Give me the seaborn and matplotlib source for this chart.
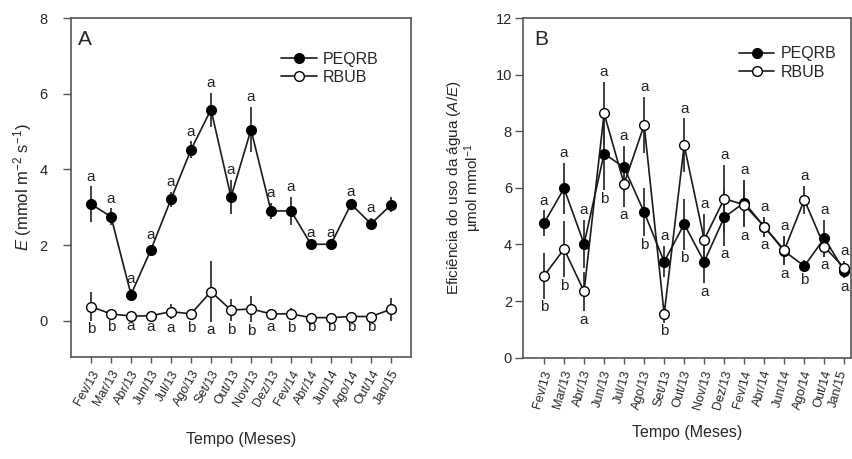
import numpy as np
import pandas as pd
import matplotlib
matplotlib.use("Agg")
import matplotlib.pyplot as plt
import matplotlib.transforms as mtransforms
import seaborn as sns

# ---------------- data ----------------
months = ["Fev/13", "Mar/13", "Abr/13", "Jun/13", "Jul/13", "Ago/13", "Set/13", "Out/13",
          "Nov/13", "Dez/13", "Fev/14", "Abr/14", "Jun/14", "Ago/14", "Out/14", "Jan/15"]

# Panel A: transpiration E
peqrb_E = [3.08, 2.75, 0.69, 1.88, 3.21, 4.52, 5.58, 3.27, 5.05, 2.90, 2.90, 2.02, 2.02, 3.08, 2.56, 3.06]
peqrb_E_err = [0.47, 0.22, 0.15, 0.12, 0.2, 0.22, 0.45, 0.45, 0.6, 0.22, 0.38, 0.05, 0.05, 0.05, 0.15, 0.2]
rbub_E = [0.37, 0.18, 0.12, 0.13, 0.24, 0.18, 0.77, 0.28, 0.31, 0.18, 0.18, 0.08, 0.08, 0.11, 0.11, 0.30]
rbub_E_err = [0.38, 0.12, 0.05, 0.08, 0.2, 0.14, 0.8, 0.3, 0.35, 0.12, 0.16, 0.03, 0.03, 0.05, 0.05, 0.3]
peqrb_E_let = ["a"] * 15 + [""]
rbub_E_let = ["b", "b", "a", "a", "a", "b", "a", "b", "b", "a", "b", "b", "b", "b", "b", ""]

# Panel B: water use efficiency A/E
peqrb_W = [4.75, 5.98, 4.02, 7.21, 6.72, 5.14, 3.39, 4.72, 3.39, 4.96, 5.48, 4.63, 3.76, 3.24, 4.22, 3.06]
peqrb_W_err = [0.45, 0.9, 0.85, 1.3, 0.75, 0.85, 0.55, 0.9, 0.76, 1.0, 0.8, 0.35, 0.5, 0.2, 0.65, 0.25]
rbub_W = [2.89, 3.84, 2.34, 8.63, 6.14, 8.22, 1.54, 7.50, 4.17, 5.62, 5.40, 4.63, 3.80, 5.58, 3.92, 3.16]
rbub_W_err = [0.8, 1.0, 0.7, 1.1, 0.8, 1.0, 0.3, 0.95, 0.9, 1.2, 0.8, 0.35, 0.5, 0.5, 0.35, 0.25]
peqrb_W_let = ["a", "a", "a", "b", "a", "b", "a", "b", "a", "a", "a", "a", "a", "b", "a", "a"]
rbub_W_let = ["b", "b", "a", "a", "a", "a", "b", "a", "a", "a", "a", "a", "a", "a", "a", "a"]

series_names = ["PEQRB", "RBUB"]

# ---------------- style ----------------
sns.set_theme(style="white")
plt.rcParams["font.family"] = ["Liberation Sans", "DejaVu Sans"]
plt.rcParams["mathtext.fontset"] = "custom"
plt.rcParams["mathtext.rm"] = "Liberation Sans"
plt.rcParams["mathtext.it"] = "Liberation Sans:italic"
plt.rcParams["mathtext.default"] = "regular"

SPINE = "#555555"
LINE = "#1a1a1a"

fig = plt.figure(figsize=(8.52, 4.59), dpi=100)
W, H = 852, 459
axA = fig.add_axes([71 / W, 1 - 357 / H, 340 / W, 339 / H])
axB = fig.add_axes([523 / W, 1 - 357.7 / H, 328 / W, 339.7 / H])

x = np.arange(len(months))


def draw(ax, yp, ep, yr, er, lp, lr, mode):
    df = pd.DataFrame({"x": np.concatenate([x, x]),
                       "v": np.concatenate([yp, yr]),
                       "s": [series_names[0]] * len(x) + [series_names[1]] * len(x)})
    ax.errorbar(x, yp, yerr=ep, fmt="none", ecolor="#333333", elinewidth=1.3, capsize=0, zorder=1)
    ax.errorbar(x, yr, yerr=er, fmt="none", ecolor="#333333", elinewidth=1.3, capsize=0, zorder=1)
    sns.lineplot(data=df[df.s == "PEQRB"], x="x", y="v", ax=ax, color=LINE, lw=1.2,
                 marker="o", markersize=7, markerfacecolor="black", markeredgecolor="black",
                 markeredgewidth=1, label="PEQRB", zorder=3)
    sns.lineplot(data=df[df.s == "RBUB"], x="x", y="v", ax=ax, color=LINE, lw=1.2,
                 marker="o", markersize=7, markerfacecolor="white", markeredgecolor="black",
                 markeredgewidth=1, label="RBUB", zorder=4)
    for i in range(len(x)):
        if mode == "A":
            p_up, r_up = True, False
        else:
            p_up = yp[i] >= yr[i]
            r_up = not p_up
        for val, err, let, up in ((yp[i], ep[i], lp[i], p_up), (yr[i], er[i], lr[i], r_up)):
            if not let:
                continue
            if up:
                ax.annotate(let, (x[i], val + err), xytext=(0, 2), textcoords="offset points",
                            ha="center", va="bottom", fontsize=11, color="#222222")
            else:
                ax.annotate(let, (x[i], val - err), xytext=(0, -1), textcoords="offset points",
                            ha="center", va="top", fontsize=11, color="#222222")


draw(axA, peqrb_E, peqrb_E_err, rbub_E, rbub_E_err, peqrb_E_let, rbub_E_let, "A")
draw(axB, peqrb_W, peqrb_W_err, rbub_W, rbub_W_err, peqrb_W_let, rbub_W_let, "B")

# axes A
axA.set_xlim(-1, 16)
axA.set_ylim(-0.96, 8)
axA.set_yticks([0, 2, 4, 6, 8])
axA.set_xticks(x)
axA.tick_params(axis="y", labelsize=10.5, length=6, width=1, color=SPINE, pad=11, left=True)
axA.tick_params(axis="x", length=4, width=1, color=SPINE, pad=4, bottom=True)
axA.set_xticklabels(months, rotation=60, ha="right", rotation_mode="anchor", fontsize=9)
axA.set_xlabel("Tempo (Meses)", fontsize=11.5, labelpad=17)
axA.set_ylabel(r"$\mathit{E}$ (mmol m$^{-2}$ s$^{-1}$)", fontsize=12, labelpad=4)
axA.text(0.02, 0.965, "A", transform=axA.transAxes, fontsize=15, ha="left", va="top")
axA.legend(loc="upper left", bbox_to_anchor=(0.6, 0.92), frameon=False, fontsize=11.5,
           handlelength=2.2, handletextpad=0.4, labelspacing=0.2, borderaxespad=0)

# axes B
axB.set_xlim(-1.05, 15.33)
axB.set_ylim(0, 12)
axB.set_yticks([0, 2, 4, 6, 8, 10, 12])
axB.set_xticks(x)
axB.tick_params(axis="y", labelsize=10.5, length=6, width=1, color=SPINE, pad=2, left=True)
axB.tick_params(axis="x", length=4, width=1, color=SPINE, pad=4, bottom=True)
axB.set_xticklabels(months, rotation=74, ha="center", va="top", rotation_mode="default",
                    fontsize=9.2)
labsB = axB.get_xticklabels()
for k, lab in enumerate(labsB):
    dx = -2 if k < len(labsB) - 1 else -6
    lab.set_transform(lab.get_transform()
                      + mtransforms.ScaledTranslation(dx / 100, 0, fig.dpi_scale_trans))
axB.set_xlabel("Tempo (Meses)", fontsize=11.5, labelpad=10)
axB.set_ylabel("Eficiência do uso da água ($\\mathit{A/E}$)\nµmol mmol$^{-1}$", fontsize=11,
               labelpad=8, linespacing=1.0)
axB.text(0.035, 0.965, "B", transform=axB.transAxes, fontsize=15, ha="left", va="top")
axB.legend(loc="upper left", bbox_to_anchor=(0.64, 0.935), frameon=False, fontsize=11.5,
           handlelength=2.2, handletextpad=0.4, labelspacing=0.2, borderaxespad=0)

for ax in (axA, axB):
    for sp in ax.spines.values():
        sp.set_color(SPINE)
        sp.set_linewidth(1.2)
        sp.set_visible(True)
    ax.grid(False)

fig.savefig("out.png", dpi=100)
